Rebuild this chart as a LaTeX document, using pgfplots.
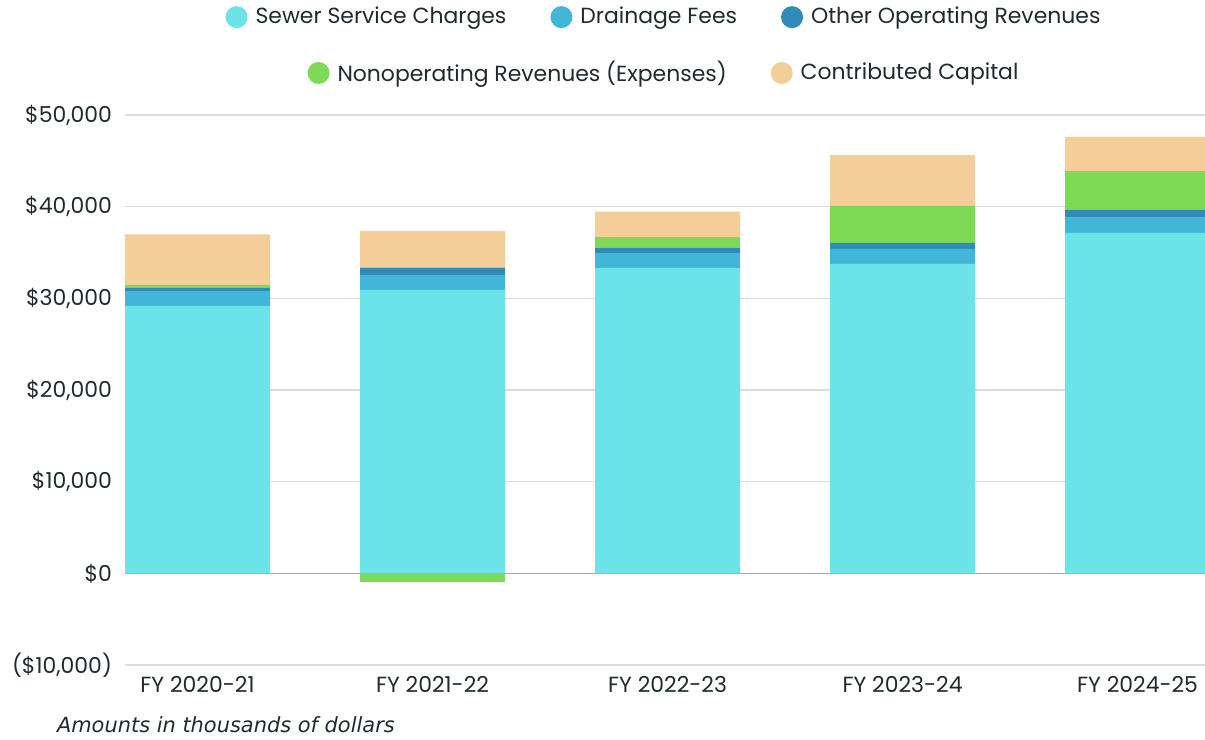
\documentclass[border=0pt]{standalone}
\usepackage{pgfplots}
\pgfplotsset{compat=1.18}
\usepackage{fontspec}
\setmainfont{Poppins}
\newfontfamily\notefont{DejaVu Sans}
\definecolor{sewer}{HTML}{6AE4E8}
\definecolor{drain}{HTML}{42B6D6}
\definecolor{other}{HTML}{2E8BBA}
\definecolor{nonop}{HTML}{7ED957}
\definecolor{contrib}{HTML}{F3CE99}
\definecolor{gridc}{HTML}{DCDCDC}
\definecolor{zeroc}{HTML}{A8A8A8}
\definecolor{txt}{HTML}{1F2A2E}
\pgfplotsset{
  dotlegend/.style={legend image code/.code={\fill[##1] (5.5bp,0bp) circle (5.5bp);}},
  common/.style={
    at={(62.5bp,37.5bp)}, anchor=south west, scale only axis,
    width=540bp, height=275bp,
    xmin=-0.3085, xmax=4.287, ymin=-10000, ymax=50000,
  },
  mylegend/.style={
    draw=none, fill=none, anchor=center,
    font=\fontsize{11}{13}\selectfont, text=txt,
    /tikz/every odd column/.append style={column sep=2bp},
    /tikz/every even column/.append style={column sep=20bp},
  },
}
\begin{document}
\begin{tikzpicture}
\useasboundingbox (0,0) rectangle (602.5bp,370bp);
\begin{axis}[common,
  ybar stacked, bar width=72.5bp,
  axis line style={draw=none}, major tick length=0pt,
  scaled y ticks=false,
  ytick={-10000,0,10000,20000,30000,40000,50000},
  yticklabels={{(\$10,000)},{\$0},{\$10,000},{\$20,000},{\$30,000},{\$40,000},{\$50,000}},
  xtick={0,1,2,3,4},
  xticklabels={FY 2020-21,FY 2021-22,FY 2022-23,FY 2023-24,FY 2024-25},
  ymajorgrids, grid style={gridc, line width=0.6bp},
  extra y ticks={0}, extra y tick labels={},
  extra y tick style={grid style={zeroc, line width=0.8bp}},
  tick label style={font=\fontsize{11}{13}\selectfont, text=txt},
  yticklabel style={xshift=-3bp},
  xticklabel style={yshift=-2bp},
  legend columns=3,
  legend style={mylegend, at={(0.5,1.178)}},
]
\addplot[fill=nonop, draw=none, forget plot] coordinates {(0,0) (1,-920) (2,0) (3,0) (4,0)};
\addplot[fill=sewer, draw=none, dotlegend] coordinates {(0,29180) (1,30930) (2,33320) (3,33760) (4,37130)};
\addplot[fill=drain, draw=none, dotlegend] coordinates {(0,1630) (1,1630) (2,1630) (3,1630) (4,1670)};
\addplot[fill=other, draw=none, dotlegend] coordinates {(0,360) (1,800) (2,580) (3,650) (4,870)};
\addplot[fill=nonop, draw=none, dotlegend] coordinates {(0,290) (1,0) (2,1160) (3,4060) (4,4210)};
\addplot[fill=contrib, draw=none, dotlegend] coordinates {(0,5520) (1,4000) (2,2760) (3,5520) (4,3740)};
\legend{Sewer Service Charges, Drainage Fees, Other Operating Revenues}
\end{axis}
\begin{axis}[common, hide axis,
  legend columns=2,
  legend style={mylegend, at={(0.5,1.0764)}},
]
\addlegendimage{fill=nonop, draw=none, dotlegend}
\addlegendentry{Nonoperating Revenues (Expenses)}
\addlegendimage{fill=contrib, draw=none, dotlegend}
\addlegendentry{Contributed Capital}
\end{axis}
\node[anchor=west, font=\notefont\itshape\fontsize{10.5}{12}\selectfont, text=txt] at (25bp,7.5bp) {Amounts in thousands of dollars};
\end{tikzpicture}
\end{document}
